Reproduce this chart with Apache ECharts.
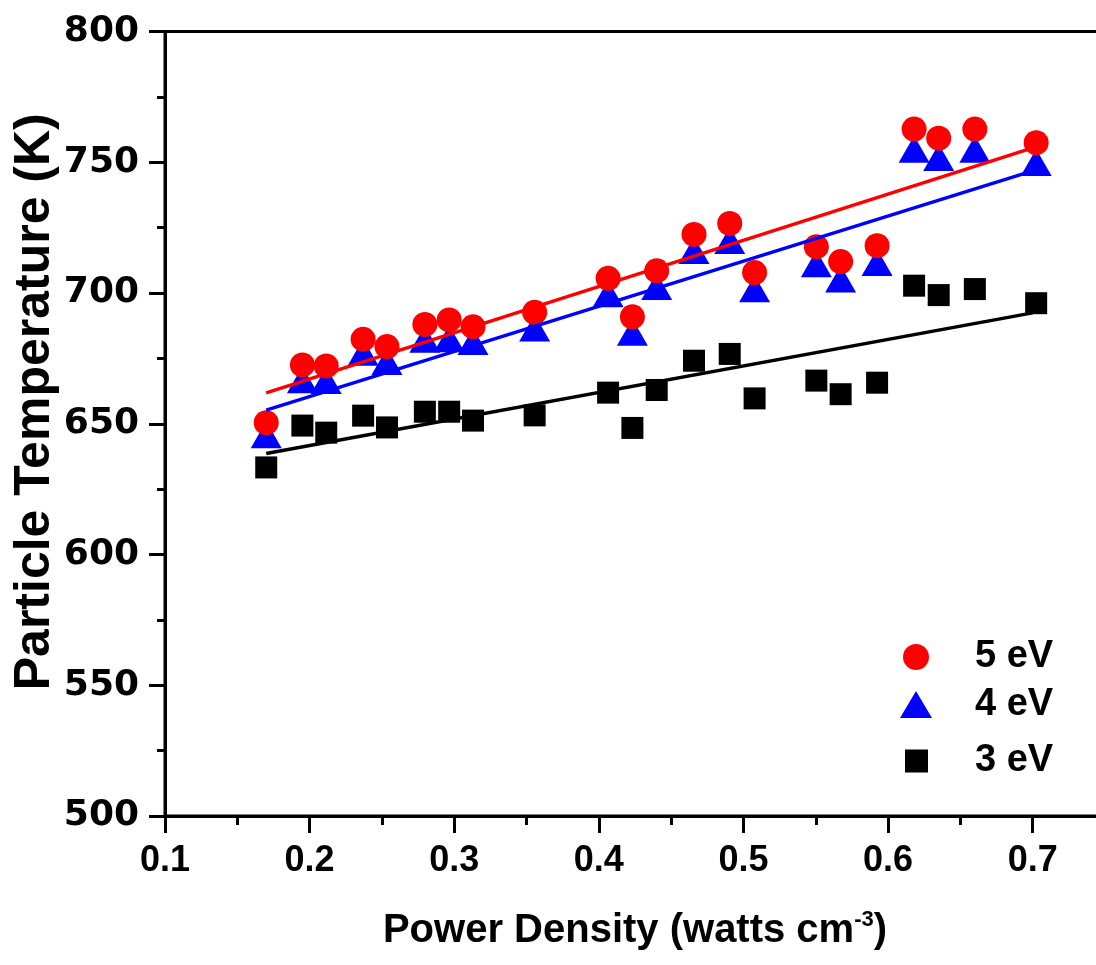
<!DOCTYPE html>
<html>
<head>
<meta charset="utf-8">
<script src="https://cdn.jsdelivr.net/npm/echarts@6/dist/echarts.min.js"></script>
<style>
  html, body { margin: 0; padding: 0; background: #fff; }
  #chart { width: 1096px; height: 965px; }
</style>
</head>
<body>
<div id="chart"></div>
<script>
// ---- data ----
const powerDensity = [0.170, 0.195, 0.2115, 0.237, 0.2535, 0.2797, 0.2965, 0.313, 0.3556, 0.4064, 0.4232,
                      0.440, 0.4658, 0.4905, 0.5077, 0.5504, 0.5672, 0.5924, 0.618, 0.635, 0.660, 0.7024];
const temp5eV = [650.4, 672.5, 672.1, 682.3, 679.5, 688.0, 689.7, 687.1, 692.6, 705.6, 690.9,
                 708.5, 722.4, 726.6, 707.8, 717.7, 712.0, 718.1, 762.7, 759.2, 762.7, 757.5];
const temp4eV = [645.8, 666.8, 666.5, 677.3, 673.8, 682.3, 682.5, 681.5, 686.6, 699.7, 685.0,
                 702.5, 716.3, 720.1, 701.6, 711.2, 705.4, 711.7, 755.0, 751.8, 755.0, 749.9];
const temp3eV = [633.3, 649.3, 646.6, 653.1, 648.6, 654.6, 654.6, 651.2, 653.2, 661.9, 648.4,
                 662.9, 674.1, 676.7, 659.7, 666.5, 661.3, 665.7, 702.8, 699.2, 701.5, 696.1];
// linear fit end points
const fitX = [0.17, 0.70];
const fit5eV = [661.8, 755.5];
const fit4eV = [655.2, 746.7];
const fit3eV = [638.6, 692.4];
const seriesNames = ['5 eV', '4 eV', '3 eV'];
const xTicks = { min: 0.1, max: 0.75, interval: 0.1 };
const yTicks = { min: 500, max: 800, interval: 50 };

const pairs = (xs, ys) => xs.map((x, i) => [x, ys[i]]);
const boldSans = '"Liberation Sans", Arial, sans-serif';

const chart = echarts.init(document.getElementById('chart'), null, { renderer: 'canvas' });

function legendFor(name, icon, w, h, left, top, padLeft) {
  return {
    data: [{ name: name, icon: icon }],
    orient: 'vertical',
    left: left, top: top,
    padding: 0,
    itemWidth: w, itemHeight: h,
    textStyle: { fontFamily: boldSans, fontWeight: 'bold', fontSize: 38, color: '#000',
                 lineHeight: 40, padding: [0, 0, 0, padLeft] },
    selectedMode: false
  };
}

chart.setOption({
  animation: false,
  backgroundColor: '#fff',
  grid: { left: 165, top: 31.5, right: -9, bottom: 149, containLabel: false, outerBoundsMode: 'none',
          show: true, borderColor: '#000', borderWidth: 3, backgroundColor: 'transparent' },
  xAxis: {
    type: 'value', min: xTicks.min, max: xTicks.max, interval: xTicks.interval,
    splitLine: { show: false },
    axisLine: { show: true, onZero: false, lineStyle: { color: '#000', width: 3 } },
    axisTick: { show: true, inside: false, length: 17, lineStyle: { color: '#000', width: 3 } },
    minorTick: { show: true, splitNumber: 2, length: 9, lineStyle: { color: '#000', width: 3 } },
    axisLabel: { showMaxLabel: false, margin: 27, fontFamily: boldSans, fontWeight: 'bold', fontSize: 36, color: '#000',
                 formatter: v => v.toFixed(1) },
    name: 'Power Density (watts cm{sup|-3})',
    nameLocation: 'middle', nameGap: 93,
    nameTextStyle: { fontFamily: boldSans, fontWeight: 'bold', fontSize: 40, color: '#000',
                     rich: { sup: { fontFamily: boldSans, fontWeight: 'bold', fontSize: 22, color: '#000',
                                    padding: [0, 0, 22, 0] } } }
  },
  yAxis: {
    type: 'value', min: yTicks.min, max: yTicks.max, interval: yTicks.interval,
    splitLine: { show: false },
    axisLine: { show: true, onZero: false, lineStyle: { color: '#000', width: 3 } },
    axisTick: { show: true, inside: false, length: 16, lineStyle: { color: '#000', width: 3 } },
    minorTick: { show: true, splitNumber: 2, length: 8, lineStyle: { color: '#000', width: 3 } },
    axisLabel: { margin: 26, fontFamily: '"DejaVu Sans", sans-serif', fontWeight: 'bold', fontSize: 36, color: '#000' },
    name: 'Particle Temperature (K)',
    nameLocation: 'middle', nameGap: 105, nameRotate: 90, nameMoveOverlap: false,
    nameTextStyle: { fontFamily: boldSans, fontWeight: 'bold', fontSize: 50, color: '#000',
                     padding: [0, 0, 0, 44] }
  },
  legend: [
    legendFor(seriesNames[0], 'circle', 26, 26, 903, 637, 41),
    legendFor(seriesNames[1], 'triangle', 32, 27, 900, 684.5, 38),
    legendFor(seriesNames[2], 'rect', 23, 23, 905, 741, 42)
  ],
  series: [
    { name: seriesNames[2], type: 'scatter', symbol: 'rect', symbolSize: 22,
      itemStyle: { color: '#000', opacity: 1 }, data: pairs(powerDensity, temp3eV), z: 2 },
    { name: seriesNames[1], type: 'scatter', symbol: 'triangle', symbolSize: [31, 27],
      itemStyle: { color: '#0000ff', opacity: 1 }, data: pairs(powerDensity, temp4eV), z: 3 },
    { name: seriesNames[0], type: 'scatter', symbol: 'circle', symbolSize: 25,
      itemStyle: { color: '#ff0000', opacity: 1 }, data: pairs(powerDensity, temp5eV), z: 4 },
    { name: '3 eV fit', type: 'line', showSymbol: false, symbol: 'none', data: pairs(fitX, fit3eV),
      lineStyle: { color: '#000', width: 3.5 }, z: 5 },
    { name: '4 eV fit', type: 'line', showSymbol: false, symbol: 'none', data: pairs(fitX, fit4eV),
      lineStyle: { color: '#0000ff', width: 3.5 }, z: 5 },
    { name: '5 eV fit', type: 'line', showSymbol: false, symbol: 'none', data: pairs(fitX, fit5eV),
      lineStyle: { color: '#ff0000', width: 3.5 }, z: 5 }
  ]
});
</script>
</body>
</html>
